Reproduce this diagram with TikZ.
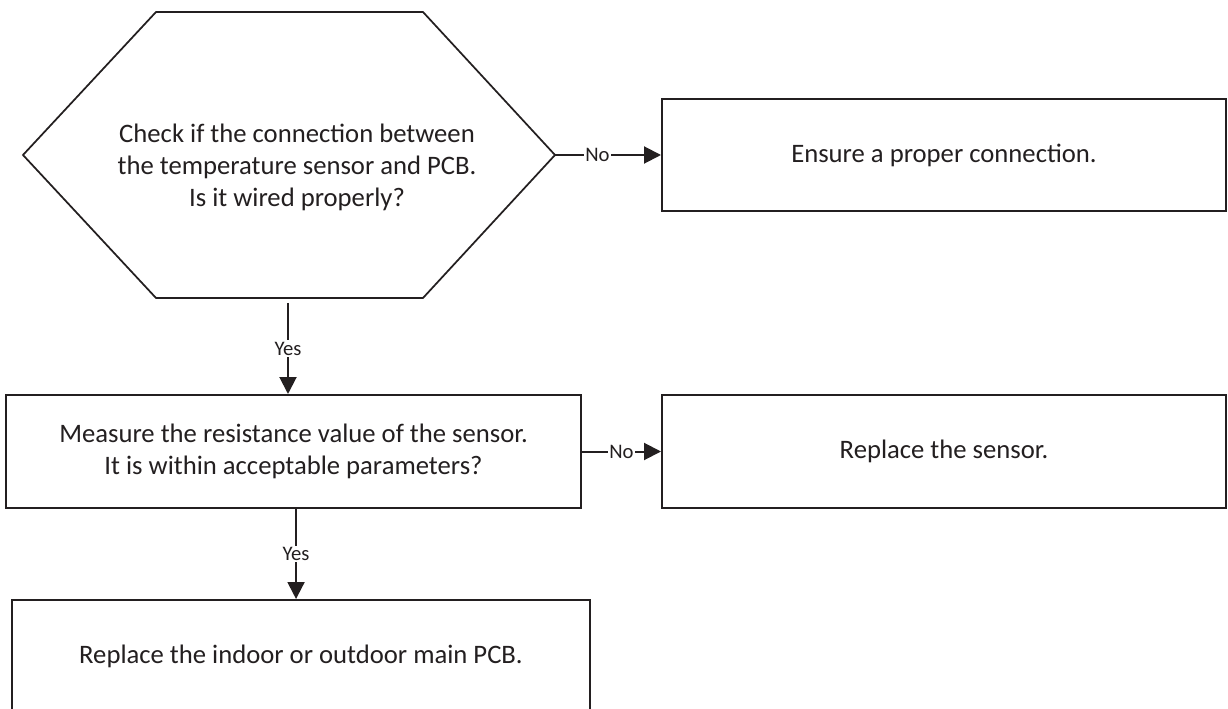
\documentclass[tikz,border=0pt]{standalone}
\usepackage{fontspec}
\setmainfont{Carlito}
\usetikzlibrary{arrows.meta}
\definecolor{ink}{HTML}{231F20}
\begin{document}
\begin{tikzpicture}[x=0.75pt,y=-0.75pt,
  box/.style={draw=ink, line width=1.5pt, inner sep=0pt, align=center, text=ink,
    font=\fontsize{20}{24}\selectfont},
  hexline/.style={draw=ink, line width=1.3pt, line join=miter},
  hextext/.style={align=center, text=ink, inner sep=0pt, font=\fontsize{20}{24}\selectfont},
  lbl/.style={fill=white, inner sep=1pt, text=ink, font=\fontsize{15.5}{18}\selectfont},
  arr/.style={draw=ink, line width=1.5pt, -{Triangle[length=12.75pt,width=12.75pt]}}]
\useasboundingbox (0,0) rectangle (1228,709);
\fill[white] (0,0) rectangle (1228,709);
% decision hexagon
\draw[hexline] (23,155) -- (156,12) -- (423,12) -- (555,155) -- (423,298) -- (156,298) -- cycle;
\node[hextext] (hex) at (297,167) {Check if the connection between\\the temperature sensor and PCB.\\Is it wired properly?};
\coordinate (hr) at (555,155);
\coordinate (hb) at (288,303);
% boxes
\node[box, minimum width=423pt, minimum height=84pt] (b1) at (944,155) {Ensure a proper connection.};
\node[box, minimum width=431.25pt, minimum height=84.75pt] (b2) at (293.5,451.5) {Measure the resistance value of the sensor.\\It is within acceptable parameters?};
\node[box, minimum width=423pt, minimum height=84.75pt] (b3) at (944,451.5) {Replace the sensor.};
\node[box, minimum width=433.5pt, minimum height=84pt] (b4) at (301,656) {Replace the indoor or outdoor main PCB.};
% connectors
\draw[arr] (hr) -- (b1.west) node[lbl, pos=0.4] {No};
\draw[arr] (hb) -- (hb |- b2.north) node[lbl, midway] {Yes};
\draw[arr] (b2.east) -- (b3.west) node[lbl, pos=0.5] {No};
\draw[arr] ([xshift=1.9pt]b2.south) -- ([xshift=1.9pt]b2.south |- b4.north) node[lbl, midway] {Yes};
\end{tikzpicture}
\end{document}
